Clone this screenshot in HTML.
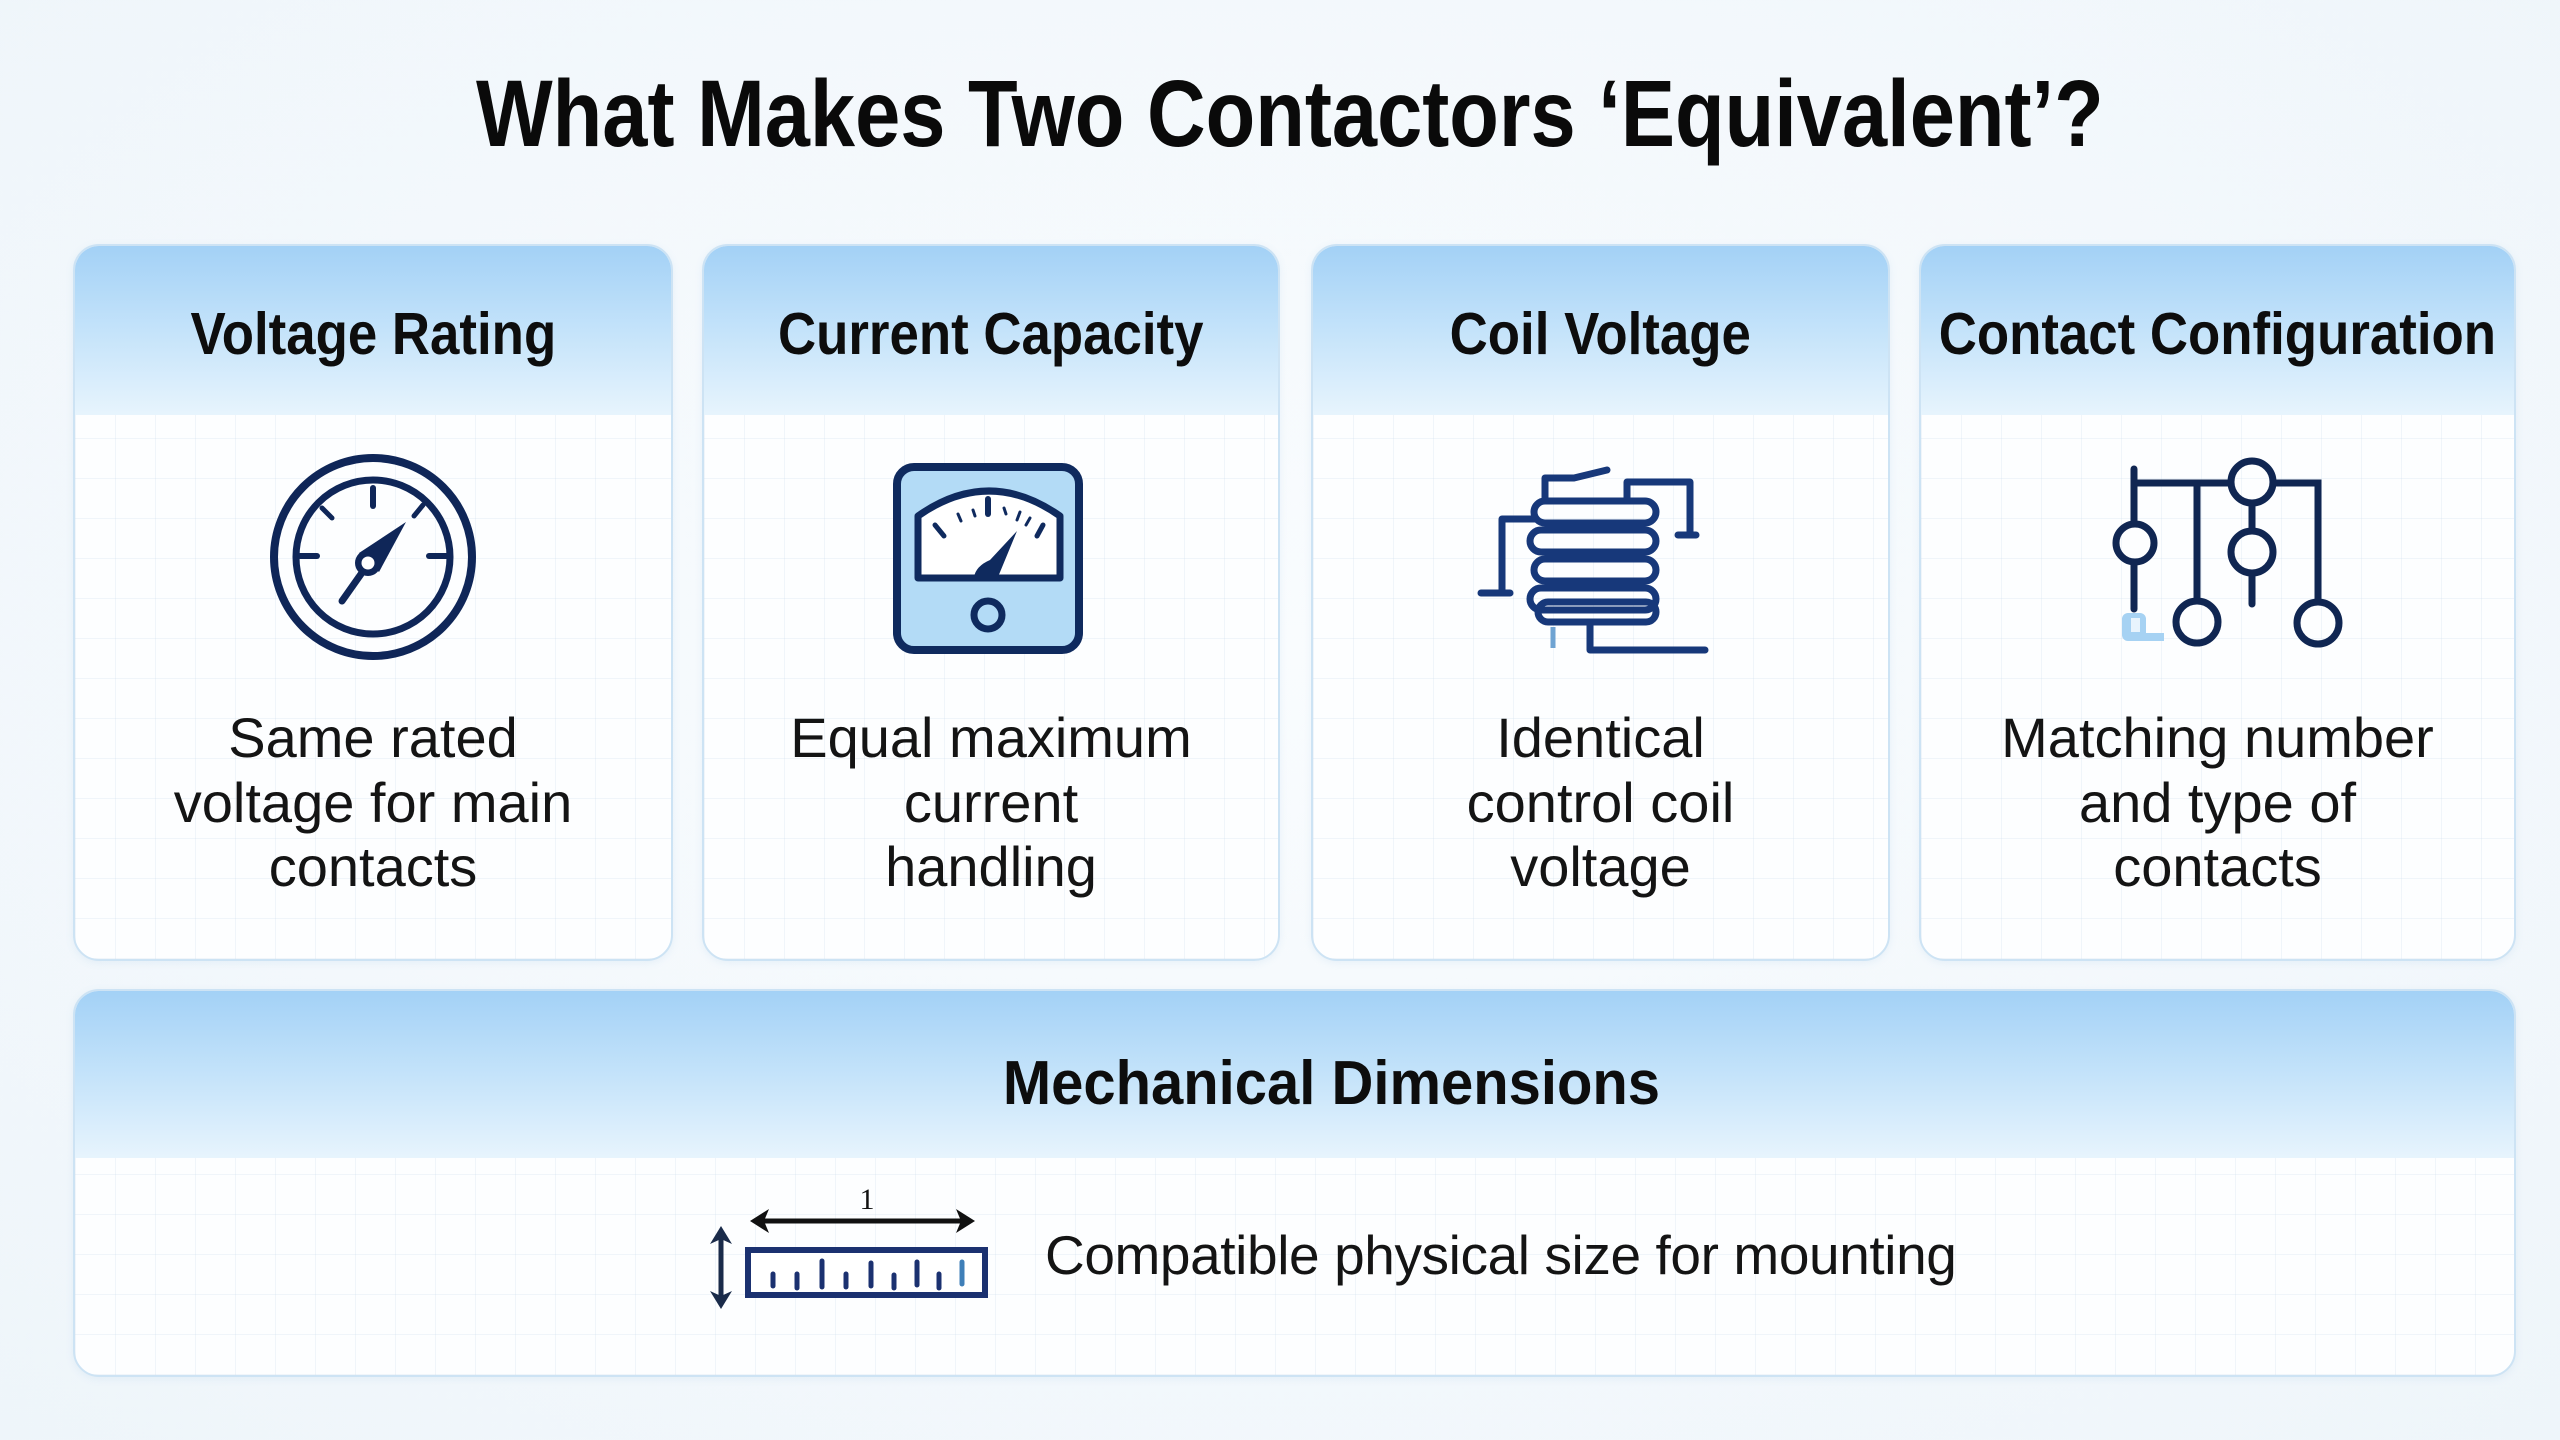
<!DOCTYPE html>
<html>
<head>
<meta charset="utf-8">
<style>
  html, body { margin:0; padding:0; }
  body {
    width:2560px; height:1440px; position:relative; overflow:hidden;
    background: radial-gradient(ellipse at 50% 45%, #f9fcfe 0%, #f3f8fc 60%, #eef5fa 100%);
    font-family: "Liberation Sans", "DejaVu Sans", sans-serif;
  }
  .title {
    position:absolute; left:10px; top:67px; width:2560px; text-align:center;
    font-size:95px; line-height:95px; font-weight:bold; color:#0a0a0a;
  }
  .title span { display:inline-block; transform:scaleX(0.855); transform-origin:50% 50%; white-space:nowrap; }
  .card {
    position:absolute; top:244px; height:713px;
    border:2px solid #cde3f4; border-radius:26px; overflow:hidden;
    background-color:#fdfeff;
    background-image:
      repeating-linear-gradient(0deg, rgba(205,222,236,0.28) 0 1px, transparent 1px 40px),
      repeating-linear-gradient(90deg, rgba(205,222,236,0.28) 0 1px, transparent 1px 40px);
    box-shadow: 0 2px 8px rgba(120,170,210,0.12);
  }
  .hdr {
    position:absolute; left:0; top:0; right:0; height:169px;
    background: linear-gradient(180deg, #a3d1f6 0%, #c4e3fa 50%, #e7f4fd 100%);
  }
  .htxt {
    position:absolute; left:-200px; right:-200px; top:59px; text-align:center;
    font-size:59px; line-height:59px; font-weight:bold; color:#0d0d0d;
  }
  .htxt span { display:inline-block; transform:scaleX(0.895); transform-origin:50% 50%; white-space:nowrap; }
  .body {
    position:absolute; left:-200px; right:-200px; top:460px; text-align:center;
    font-size:56px; line-height:64.5px; color:#141414; white-space:nowrap;
  }
  .wide {
    position:absolute; left:73px; top:989px; width:2439px; height:384px;
    border:2px solid #cde3f4; border-radius:26px; overflow:hidden;
    background-color:#fdfeff;
    background-image:
      repeating-linear-gradient(0deg, rgba(205,222,236,0.28) 0 1px, transparent 1px 40px),
      repeating-linear-gradient(90deg, rgba(205,222,236,0.28) 0 1px, transparent 1px 40px);
    box-shadow: 0 2px 8px rgba(120,170,210,0.12);
  }
  .wide .hdr { height:167px; }
  .mech {
    position:absolute; left:0; top:1053px; width:2662px; text-align:center;
    font-size:62px; line-height:62px; font-weight:bold; color:#0d0d0d;
  }
  .mech span { display:inline-block; transform:scaleX(0.935); transform-origin:50% 50%; white-space:nowrap; }
  .compat {
    position:absolute; left:1045px; top:1223px;
    font-size:55px; line-height:64px; color:#141414; white-space:nowrap;
    letter-spacing:-0.4px;
  }
  svg.icons { position:absolute; left:0; top:0; }
</style>
</head>
<body>

<div class="title"><span>What Makes Two Contactors ‘Equivalent’?</span></div>

<div class="card" style="left:73px; width:596px;">
  <div class="hdr"></div>
  <div class="htxt"><span>Voltage Rating</span></div>
  <div class="body">Same rated<br>voltage for main<br>contacts</div>
</div>

<div class="card" style="left:702px; width:574px;">
  <div class="hdr"></div>
  <div class="htxt"><span>Current Capacity</span></div>
  <div class="body">Equal maximum<br>current<br>handling</div>
</div>

<div class="card" style="left:1311px; width:575px;">
  <div class="hdr"></div>
  <div class="htxt"><span>Coil Voltage</span></div>
  <div class="body">Identical<br>control coil<br>voltage</div>
</div>

<div class="card" style="left:1919px; width:593px;">
  <div class="hdr"></div>
  <div class="htxt"><span>Contact Configuration</span></div>
  <div class="body">Matching number<br>and type of<br>contacts</div>
</div>

<div class="wide">
  <div class="hdr"></div>
</div>
<div class="mech"><span>Mechanical Dimensions</span></div>
<div class="compat">Compatible physical size for mounting</div>

<svg class="icons" width="2560" height="1440" viewBox="0 0 2560 1440" xmlns="http://www.w3.org/2000/svg">
  <!-- Gauge (Voltage Rating) -->
  <g fill="none" stroke="#0f2658" stroke-linecap="round">
    <circle cx="373" cy="557" r="99" stroke-width="8"/>
    <circle cx="373" cy="557" r="77" stroke-width="7"/>
    <line x1="373" y1="488" x2="373" y2="506" stroke-width="6"/>
    <line x1="300" y1="556" x2="317" y2="556" stroke-width="6"/>
    <line x1="429" y1="556" x2="447" y2="556" stroke-width="6"/>
    <line x1="322" y1="508" x2="332" y2="518" stroke-width="5"/>
    <line x1="423" y1="505" x2="414" y2="516" stroke-width="5"/>
    <line x1="366" y1="567" x2="342" y2="601" stroke-width="7"/>
  </g>
  <polygon points="406,522 359,553 379,572" fill="#0f2658"/>
  <circle cx="368" cy="563" r="13" fill="#0f2658"/>
  <circle cx="368" cy="563" r="6.5" fill="#ffffff"/>

  <!-- Meter (Current Capacity) -->
  <rect x="897" y="467" width="182" height="183" rx="17" fill="#b3dbf6" stroke="#0f2a5e" stroke-width="8"/>
  <path d="M918,578 V516 Q989,466 1060,516 V578 Z" fill="#ffffff" stroke="#0f2a5e" stroke-width="7" stroke-linejoin="round"/>
  <g stroke="#0f2a5e" stroke-linecap="round">
    <line x1="935" y1="525" x2="944" y2="536" stroke-width="5"/>
    <line x1="958" y1="514" x2="961" y2="521" stroke-width="3"/>
    <line x1="973" y1="510" x2="975" y2="516" stroke-width="3"/>
    <line x1="988" y1="499" x2="988" y2="514" stroke-width="6"/>
    <line x1="1004" y1="508" x2="1006" y2="514" stroke-width="3"/>
    <line x1="1020" y1="512" x2="1017" y2="520" stroke-width="3"/>
    <line x1="1030" y1="518" x2="1026" y2="525" stroke-width="3"/>
    <line x1="1043" y1="525" x2="1037" y2="536" stroke-width="5"/>
  </g>
  <path d="M974,577 Q976,566 990,560 L1017,531 L998,577 Z" fill="#0f2a5e"/>
  <circle cx="988" cy="615" r="14" fill="#b3dbf6" stroke="#0f2a5e" stroke-width="7"/>

  <!-- Coil (Coil Voltage) -->
  <g fill="none" stroke="#17387a" stroke-width="7" stroke-linecap="round" stroke-linejoin="round">
    <rect x="1534" y="501" width="122" height="22" rx="11"/>
    <rect x="1530" y="530" width="126" height="22" rx="11"/>
    <rect x="1534" y="559" width="122" height="22" rx="11"/>
    <rect x="1530" y="588" width="126" height="22" rx="11"/>
    <rect x="1538" y="602" width="118" height="20" rx="10"/>
    <path d="M1545,501 V478 H1574 L1607,470"/>
    <path d="M1627,501 V482 H1690 V535"/>
    <path d="M1678,535 H1696"/>
    <path d="M1536,519 H1502 V593"/>
    <path d="M1481,593 H1510"/>
    <path d="M1590,622 V650 H1705"/>
  </g>
  <path d="M1553,627 V648" stroke="#6fa3d2" stroke-width="5"/>

  <!-- Contacts (Contact Configuration) -->
  <g fill="none" stroke="#102652" stroke-width="7" stroke-linecap="round">
    <path d="M2134,469 V524"/>
    <circle cx="2135" cy="543" r="19"/>
    <path d="M2134,562 V609"/>
    <path d="M2134,483 H2231"/>
    <circle cx="2252" cy="482" r="21"/>
    <path d="M2273,483 H2318 V601"/>
    <path d="M2197,483 V600"/>
    <circle cx="2197" cy="622" r="21"/>
    <path d="M2252,503 V531"/>
    <circle cx="2252" cy="552" r="21"/>
    <path d="M2252,573 V604"/>
    <circle cx="2318" cy="623" r="21"/>
  </g>
  <path d="M2128,613 h12 a6,6 0 0 1 6,6 v14 h18 v8 h-36 a6,6 0 0 1 -6,-6 v-16 a6,6 0 0 1 6,-6 z" fill="#a6d2f3"/>
  <rect x="2131" y="618" width="9" height="14" fill="#e8f4fd"/>

  <!-- Ruler (Mechanical Dimensions) -->
  <text x="867" y="1209" font-family="Liberation Serif, serif" font-size="30" text-anchor="middle" fill="#111">1</text>
  <line x1="762" y1="1221" x2="963" y2="1221" stroke="#111" stroke-width="5"/>
  <polygon points="750,1221 769,1209 764,1221 769,1233" fill="#111"/>
  <polygon points="975,1221 956,1209 961,1221 956,1233" fill="#111"/>
  <line x1="721" y1="1238" x2="721" y2="1298" stroke="#1a2b4a" stroke-width="5"/>
  <polygon points="721,1226 710,1244 721,1239 732,1244" fill="#1a2b4a"/>
  <polygon points="721,1309 710,1291 721,1296 732,1291" fill="#1a2b4a"/>
  <rect x="748" y="1250" width="237" height="45" fill="#ffffff" stroke="#1b3170" stroke-width="6"/>
  <g stroke="#1b3170" stroke-width="5" stroke-linecap="round">
    <line x1="773" y1="1274" x2="773" y2="1286"/>
    <line x1="797" y1="1274" x2="797" y2="1288"/>
    <line x1="822" y1="1261" x2="822" y2="1287"/>
    <line x1="846" y1="1274" x2="846" y2="1287"/>
    <line x1="871" y1="1263" x2="871" y2="1286"/>
    <line x1="894" y1="1275" x2="894" y2="1288"/>
    <line x1="917" y1="1262" x2="917" y2="1285"/>
    <line x1="939" y1="1274" x2="939" y2="1288"/>
  </g>
  <line x1="962" y1="1262" x2="962" y2="1284" stroke="#3f7fb8" stroke-width="5" stroke-linecap="round"/>
</svg>

</body>
</html>
